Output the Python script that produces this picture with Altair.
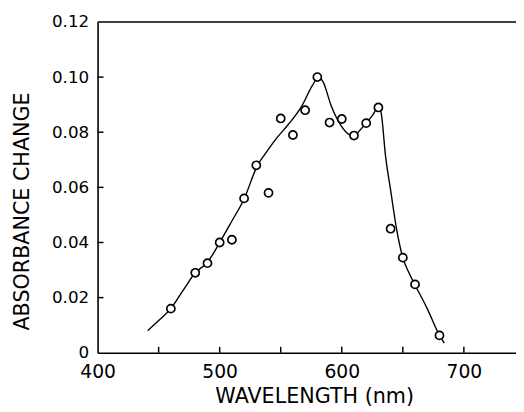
import altair as alt
import pandas as pd

# measured points (open circles)
pt_wl = [460, 480, 490, 500, 510, 520, 530, 540, 550, 560, 570, 580, 590, 600, 610, 620, 630, 640, 650, 660, 680]
pt_abs = [0.016, 0.029, 0.0325, 0.040, 0.041, 0.056, 0.068, 0.058, 0.085, 0.079, 0.088, 0.100,
          0.0835, 0.0848, 0.0788, 0.0833, 0.089, 0.045, 0.0345, 0.0248, 0.0063]

# hand-drawn curve
curve_wl = [441, 450, 460, 470, 480, 490, 500, 510, 520, 531, 537, 546, 556, 567, 576, 581, 585, 591,
            599, 606, 610, 615, 620, 625, 630, 632, 636, 640, 645, 650, 655, 660, 670, 680, 684]
curve_abs = [0.008, 0.0117, 0.016, 0.0226, 0.029, 0.0328, 0.040, 0.0478, 0.0558, 0.068, 0.072, 0.0775,
             0.0827, 0.0893, 0.097, 0.100, 0.098, 0.090, 0.0827, 0.0792, 0.0787, 0.0808, 0.0833, 0.086,
             0.089, 0.0875, 0.0708, 0.059, 0.0446, 0.0345, 0.029, 0.0246, 0.016, 0.0063, 0.0035]

x_ticks = [450, 500, 550, 600, 650, 700]
y_ticks = [0.02, 0.04, 0.06, 0.08, 0.10]
x_labels = [400, 500, 600, 700]
y_labels = [0, 0.02, 0.04, 0.06, 0.08, 0.10, 0.12]

pts = pd.DataFrame({"wl": pt_wl, "a": pt_abs})
curve = pd.DataFrame({"wl": curve_wl, "a": curve_abs})
xt = pd.DataFrame({"wl": x_ticks})
yt = pd.DataFrame({"a": y_ticks})
tp = pd.DataFrame({"a": [0.12]})

FONT = "DejaVu Sans"
xscale = alt.Scale(domain=[400, 742.7], nice=False, zero=False)
yscale = alt.Scale(domain=[0, 0.12], nice=False)

W, H = 425, 336

X = alt.X("wl:Q", scale=xscale, title="WAVELENGTH (nm)",
          axis=alt.Axis(values=x_labels, format="d", titleX=220, titleY=51,
                        titleBaseline="alphabetic", labelFontSize=19, labelPadding=10,
                        labelFlush=False, labelOverlap=False))
Y = alt.Y("a:Q", scale=yscale, title="ABSORBANCE CHANGE",
          axis=alt.Axis(values=y_labels,
                        labelExpr="datum.value == 0 ? '0' : format(datum.value, '.2f')",
                        titleX=-70, titleY=192, titleBaseline="alphabetic",
                        labelFontSize=17, labelPadding=9, labelFlush=False, labelOverlap=False))

line = alt.Chart(curve).mark_line(interpolate="monotone", color="black", strokeWidth=1.4).encode(x=X, y=Y)

points = alt.Chart(pts).mark_point(shape="circle", filled=True, fill="white", stroke="black",
                                   strokeWidth=1.7, size=68, opacity=1).encode(x=X, y=Y)

xtick = alt.Chart(xt).mark_rule(color="black", strokeWidth=1.5).encode(
    x=X, y=alt.value(H), y2=alt.value(H - 6),
)
ytick = alt.Chart(yt).mark_rule(color="black", strokeWidth=1.5).encode(
    y=Y, x=alt.value(0), x2=alt.value(6),
)
top = alt.Chart(tp).mark_rule(color="black", strokeWidth=1.5).encode(y=Y)

chart = alt.layer(line, xtick, ytick, top, points).properties(
    width=W, height=H,
    autosize=alt.AutoSizeParams(type="none"),
    padding={"left": 91, "top": 11, "right": 0, "bottom": 57},
    background="white",
).configure_view(stroke=None).configure_axis(
    tickSize=0, grid=False, domainColor="black", domainWidth=1.6,
    labelFont=FONT, labelColor="black",
    titleFont=FONT, titleFontSize=21, titleFontWeight="normal", titleColor="black",
)

chart.save("out.html", embed_options={"renderer": "svg", "actions": False})
